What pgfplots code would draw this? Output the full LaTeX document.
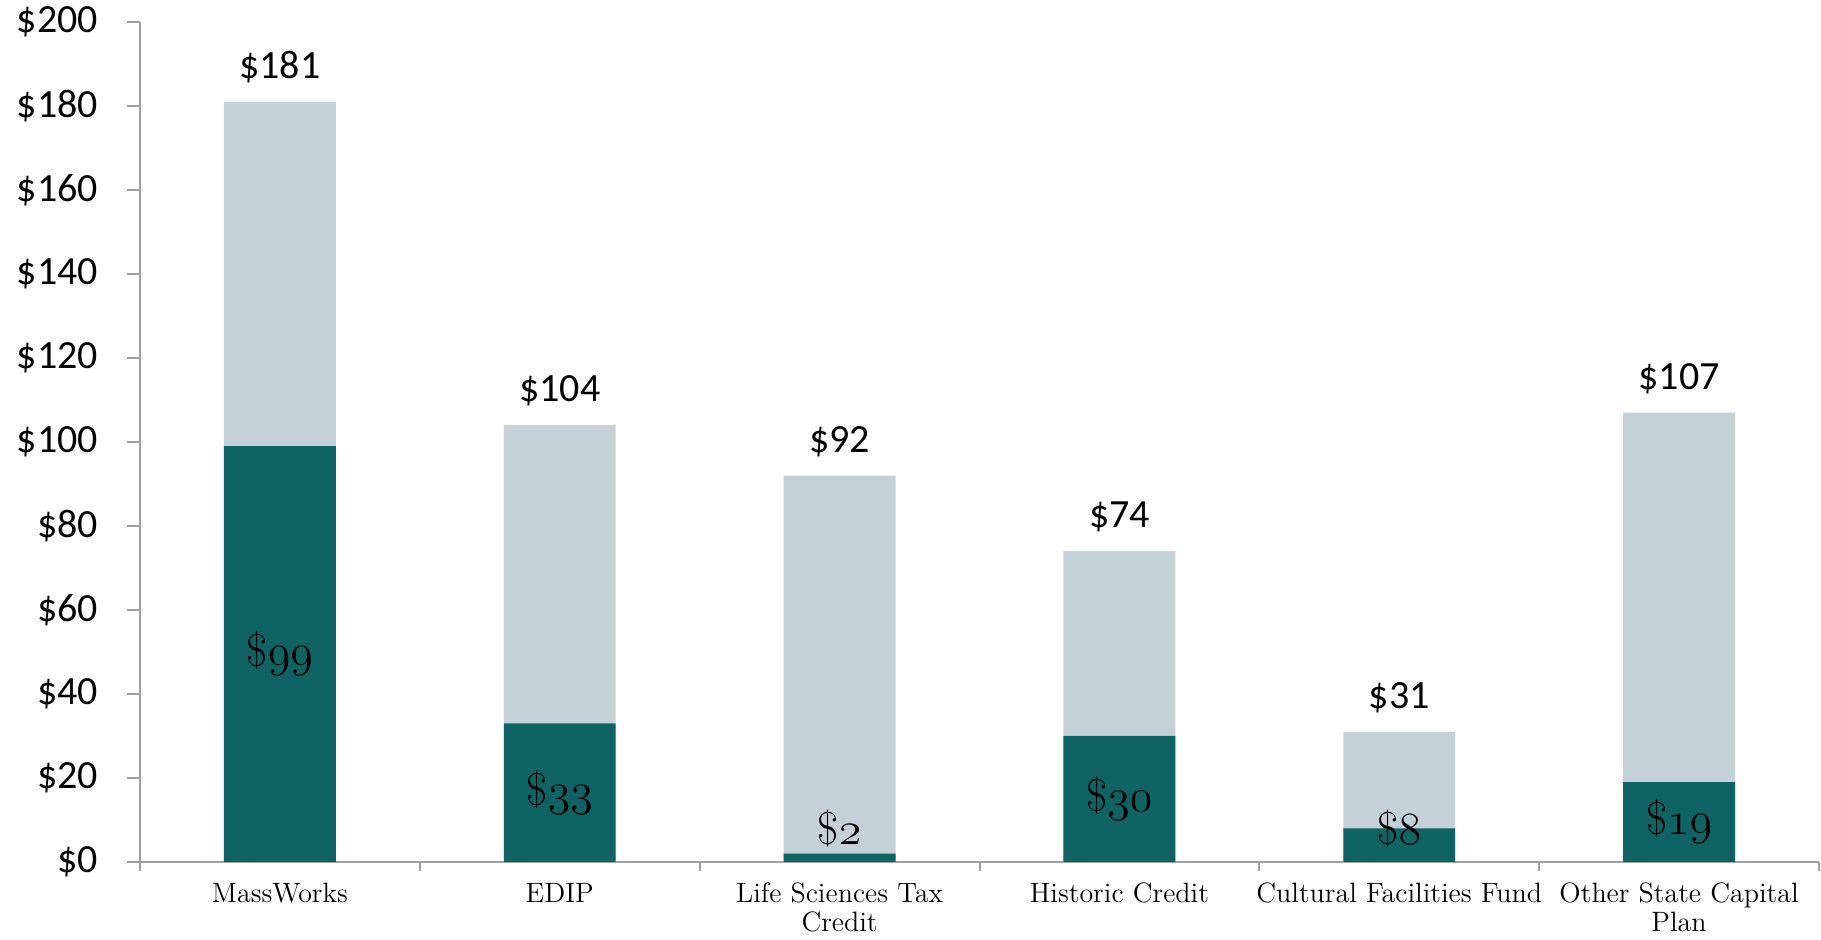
\documentclass[border=0pt]{standalone}
\usepackage{fix-cm}
\usepackage{fontspec}
\usepackage{pgfplots}
\pgfplotsset{compat=1.18}
\newfontfamily\carlito{Carlito}
\definecolor{darkteal}{RGB}{15,100,99}
\definecolor{lightbar}{RGB}{197,209,216}
\definecolor{axisgray}{RGB}{160,160,160}
\begin{document}
\begin{tikzpicture}
\useasboundingbox (-70pt,-39pt) rectangle (840.5pt,431pt);
\begin{axis}[
  scale only axis, width=839.5pt, height=420pt,
  xmin=-0.5, xmax=5.5, ymin=0, ymax=200,
  clip=false,
  /pgf/number format/assume math mode=true,
  ytick={0,20,...,200},
  yticklabel={\$\pgfmathprintnumber{\tick}},
  xtick={0,...,5},
  xticklabels={MassWorks, EDIP, Life Sciences Tax\\Credit, Historic Credit, Cultural Facilities Fund, Other State Capital\\Plan},
  minor xtick={-0.5,0.5,...,5.5},
  axis x line*=bottom, axis y line*=left,
  axis line style={draw=axisgray, line width=1pt, -},
  tick align=outside,
  major tick length=6.5pt, minor tick length=4.5pt,
  ytick style={draw=axisgray, line width=1pt},
  major x tick style={draw=none},
  minor x tick style={draw=axisgray, line width=1pt},
  xticklabel style={align=center, font=\fontsize{14}{14.5}\selectfont, yshift=-0.5pt},
  yticklabel style={font=\carlito\fontsize{20}{24}\selectfont, xshift=-11pt},
]
\addplot[ybar, bar width=0.4, bar shift=0pt, fill=lightbar, draw=none,
  nodes near coords={\$\pgfmathprintnumber{\pgfplotspointmeta}},
  every node near coord/.append style={font=\carlito\fontsize{20}{24}\selectfont, text=black, yshift=6pt}]
  coordinates {(0,181) (1,104) (2,92) (3,74) (4,31) (5,107)};
\addplot[ybar, bar width=0.4, bar shift=0pt, fill=darkteal, draw=none,
  visualization depends on={y \as \rawy},
  nodes near coords={\$$\mathnormal{\pgfmathprintnumber{\pgfplotspointmeta}}$},
  every node near coord/.append style={font=\fontsize{23}{27}\selectfont, text=black, anchor=center,
    yshift={2.1pt*(max(\rawy/2,8)-\rawy)}}]
  coordinates {(0,99) (1,33) (2,2) (3,30) (4,8) (5,19)};
\end{axis}
\end{tikzpicture}
\end{document}
